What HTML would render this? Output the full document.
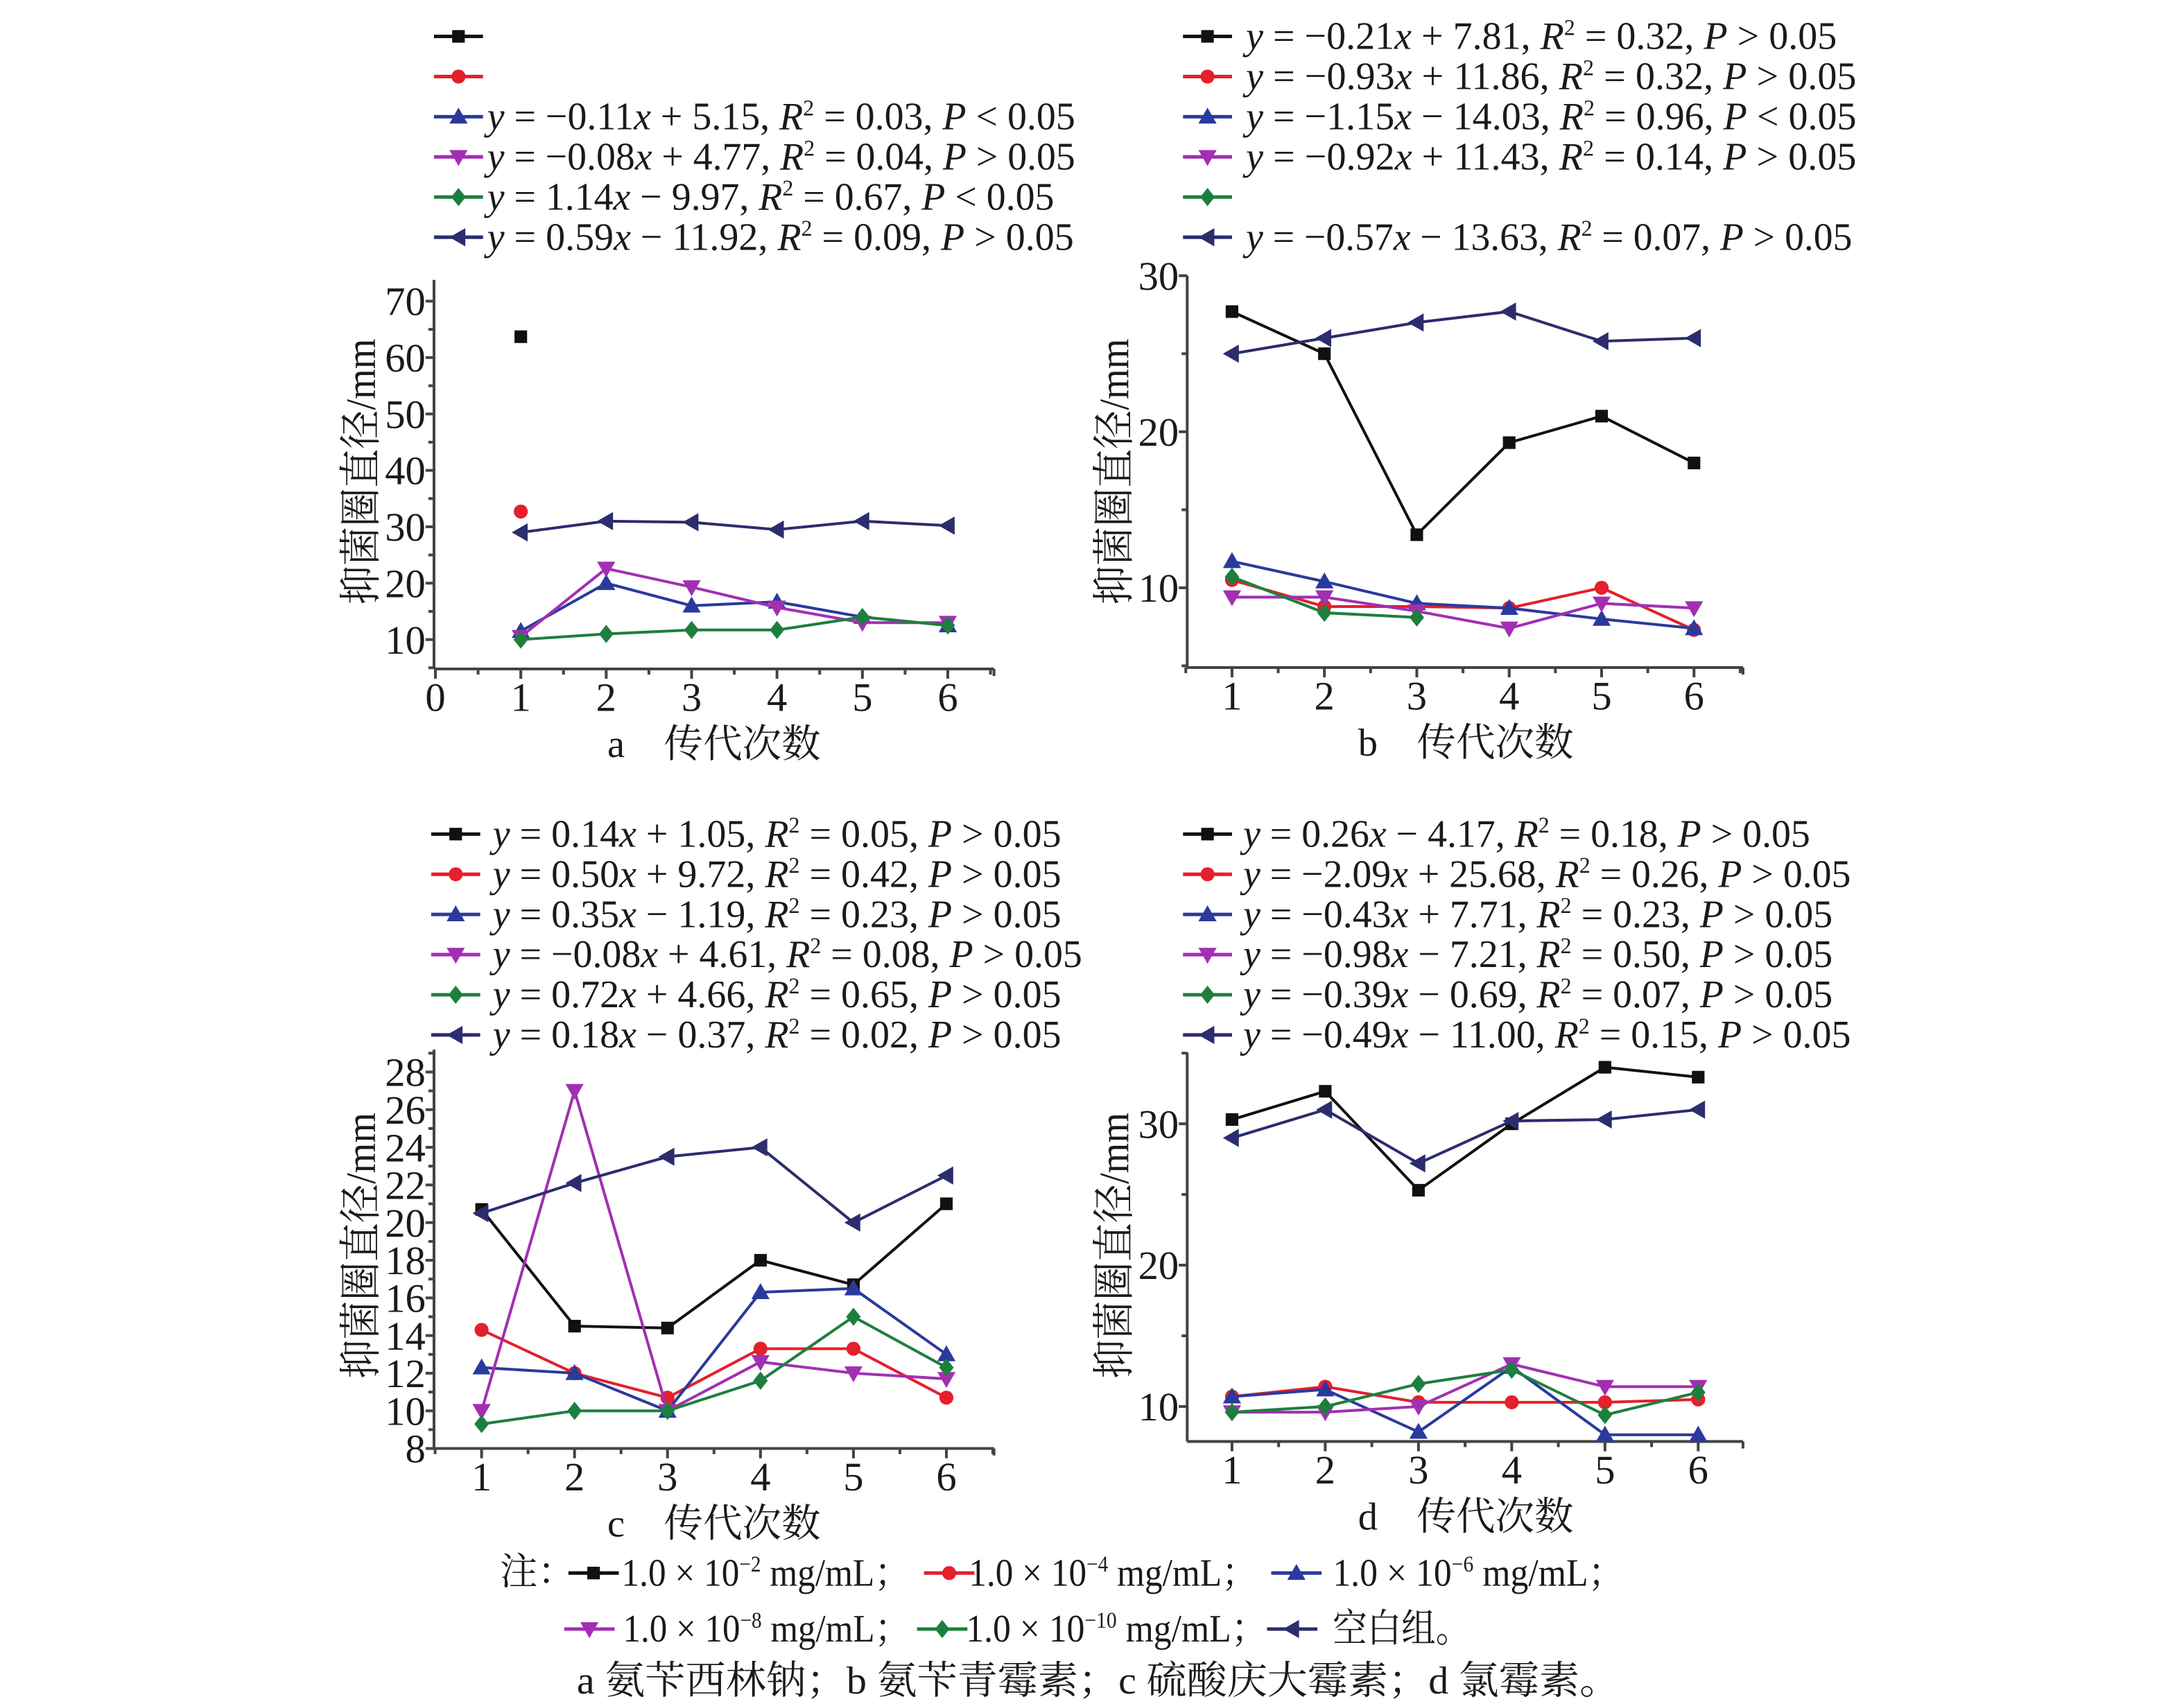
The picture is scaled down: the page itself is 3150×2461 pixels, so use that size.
<!DOCTYPE html>
<html><head><meta charset="utf-8"><style>
html,body{margin:0;padding:0;background:#fff}
svg{display:block}
text{font-family:"Liberation Serif","Noto Serif CJK SC",serif;fill:#1a1a1a}
</style></head><body>
<svg id="fig" width="3150" height="2461" viewBox="0 0 1560 1219" preserveAspectRatio="none" xmlns="http://www.w3.org/2000/svg"></svg>
<script>
// ---- data ----
const gens = [1,2,3,4,5,6];
const seriesNames = ["1e-2","1e-4","1e-6","1e-8","1e-10","blank"];
// panel a
const aBlack=[63.7,null,null,null,null,null];
const aRed=[32.7,null,null,null,null,null];
const aBlue=[11.5,20,16,16.7,14,12.5];
const aMag=[10.5,22.6,19.3,15.7,13,13];
const aGreen=[10,11,11.7,11.7,14,12.5];
const aNavy=[29,31,30.8,29.5,31,30.2];
// panel b
const bBlack=[27.7,25,13.4,19.3,21,18];
const bRed=[10.5,8.8,8.8,8.7,10,7.3];
const bBlue=[11.7,10.4,9,8.7,8,7.4];
const bMag=[9.4,9.4,8.5,7.4,9,8.7];
const bGreen=[10.7,8.4,8.1,null,null,null];
const bNavy=[25,26,27,27.7,25.8,26];
// panel c
const cBlack=[20.7,14.5,14.4,18,16.7,21];
const cRed=[14.3,12,10.7,13.3,13.3,10.7];
const cBlue=[12.3,12,10,16.3,16.5,13];
const cMag=[10,27,10,12.6,12,11.7];
const cGreen=[9.3,10,10,11.6,15,12.3];
const cNavy=[20.5,22.1,23.5,24,20,22.5];
// panel d
const dBlack=[30.3,32.3,25.3,30,34,33.3];
const dRed=[10.7,11.4,10.3,10.3,10.3,10.5];
const dBlue=[10.7,11.2,8.2,12.8,8,8];
const dMag=[9.6,9.6,10,13,11.4,11.4];
const dGreen=[9.6,10,11.6,12.6,9.4,11];
const dNavy=[29,31,27.2,30.2,30.3,31];
// ticks
const aYTicks=[10,20,30,40,50,60,70];
const bYTicks=[10,20,30];
const cYTicks=[8,10,12,14,16,18,20,22,24,26,28];
const dYTicks=[10,20,30];
const aXTicks=[0,1,2,3,4,5,6];
const bXTicks=[1,2,3,4,5,6];
// equations
const aEq=["","","y = −0.11x + 5.15, R² = 0.03, P < 0.05","y = −0.08x + 4.77, R² = 0.04, P > 0.05","y = 1.14x − 9.97, R² = 0.67, P < 0.05","y = 0.59x − 11.92, R² = 0.09, P > 0.05"];
const bEq=["y = −0.21x + 7.81, R² = 0.32, P > 0.05","y = −0.93x + 11.86, R² = 0.32, P > 0.05","y = −1.15x − 14.03, R² = 0.96, P < 0.05","y = −0.92x + 11.43, R² = 0.14, P > 0.05","","y = −0.57x − 13.63, R² = 0.07, P > 0.05"];
const cEq=["y = 0.14x + 1.05, R² = 0.05, P > 0.05","y = 0.50x + 9.72, R² = 0.42, P > 0.05","y = 0.35x − 1.19, R² = 0.23, P > 0.05","y = −0.08x + 4.61, R² = 0.08, P > 0.05","y = 0.72x + 4.66, R² = 0.65, P > 0.05","y = 0.18x − 0.37, R² = 0.02, P > 0.05"];
const dEq=["y = 0.26x − 4.17, R² = 0.18, P > 0.05","y = −2.09x + 25.68, R² = 0.26, P > 0.05","y = −0.43x + 7.71, R² = 0.23, P > 0.05","y = −0.98x − 7.21, R² = 0.50, P > 0.05","y = −0.39x − 0.69, R² = 0.07, P > 0.05","y = −0.49x − 11.00, R² = 0.15, P > 0.05"];

const COLORS=["#111111","#e3202c","#2a3a9c","#a22fb2","#1d7f3e","#2b2d6e"];
const SHAPES=["square","circle","up","down","diamond","left"];
const NS="http://www.w3.org/2000/svg";
const svg=document.getElementById('fig');
function el(tag,attrs,parent){const e=document.createElementNS(NS,tag);for(const k in attrs)e.setAttribute(k,attrs[k]);(parent||svg).appendChild(e);return e;}

function marker(shape,x,y,color,g){
  let m;
  if(shape==="square")m=el('rect',{x:x-4.5,y:y-4.5,width:9,height:9,fill:color},g);
  else if(shape==="circle")m=el('circle',{cx:x,cy:y,r:5,fill:color},g);
  else{
    const s=6.5;let p;
    if(shape==="up")p=[[x,y-s],[x+s,y+s*0.75],[x-s,y+s*0.75]];
    else if(shape==="down")p=[[x,y+s],[x+s,y-s*0.75],[x-s,y-s*0.75]];
    else if(shape==="diamond")p=[[x,y-s],[x+s*0.8,y],[x,y+s],[x-s*0.8,y]];
    else p=[[x-s,y],[x+s*0.75,y-s],[x+s*0.75,y+s]];
    m=el('polygon',{points:p.map(q=>q.join(',')).join(' '),fill:color},g);
  }
  return m;
}

function eqText(str,x,y,endX,g){
  const t=el('text',{x:x,y:y,'font-size':28,textLength:endX-x,lengthAdjust:'spacingAndGlyphs'},g);
  const re=/([yxRP])|(²)|([^yxRP²]+)/g;let mm;let pend=0;
  while((mm=re.exec(str))){
    const ts=document.createElementNS(NS,'tspan');
    if(mm[2]){ts.setAttribute('font-size','16');ts.setAttribute('dy','-10');ts.textContent='2';t.appendChild(ts);pend=10;continue;}
    if(pend){ts.setAttribute('dy',pend);pend=0;}
    if(mm[1]){ts.setAttribute('font-style','italic');ts.textContent=mm[1];}
    else ts.textContent=mm[3];
    t.appendChild(ts);
  }
  return t;
}

function panel(cfg){
  const g=el('g',{});
  
  
  const xs=v=>cfg.x1+(v-1)*cfg.dx;
  const ys=v=>cfg.yRef-(v-cfg.vRef)*cfg.py;
  const lg=el('g',{},g);
  
  
  cfg.eqs.forEach((eq,i)=>{
    const cy=cfg.legY0+i*28.7;
    const e=el('g',{},lg);
    
    
    el('line',{x1:cfg.legX,x2:cfg.legX+35,y1:cy,y2:cy,stroke:COLORS[i],'stroke-width':2.5},e);
    marker(SHAPES[i],cfg.legX+17.5,cy,COLORS[i],e);
    if(eq)eqText(eq,cfg.txtX,cy+9,cfg.ends[i],e);
  });
  const ax=el('g',{stroke:'#444','stroke-width':2},g);
  
  
  el('line',{x1:cfg.ax,x2:cfg.ax,y1:cfg.top,y2:cfg.bottom},ax);
  el('line',{x1:cfg.ax,x2:cfg.right,y1:cfg.bottom,y2:cfg.bottom},ax);
  const xstart=cfg.xTicks[0];
  for(let v=xstart-0.5;v<=6.6;v+=0.5){
    const px=xs(v);if(px<cfg.ax-1||px>cfg.right+1)continue;
    const major=Number.isInteger(v);
    el('line',{x1:px,x2:px,y1:cfg.bottom,y2:cfg.bottom+(major?7:4)},ax);
  }
  el('line',{x1:cfg.right,x2:cfg.right,y1:cfg.bottom,y2:cfg.bottom+5},ax);
  cfg.xTicks.forEach(v=>{
    const t=el('text',{x:xs(v),y:cfg.bottom+30,'font-size':29,'text-anchor':'middle'},g);
    t.textContent=v;
    
    
  });
  const step=cfg.yTicks[1]-cfg.yTicks[0];
  for(let v=cfg.yTicks[0]-step;v<=cfg.yTicks[cfg.yTicks.length-1]+step;v+=step/2){
    const py=ys(v);if(py>cfg.bottom+0.5||py<cfg.top)continue;
    const major=cfg.yTicks.includes(v);
    el('line',{x1:cfg.ax,x2:cfg.ax-(major?6:4),y1:py,y2:py},ax);
  }
  cfg.yTicks.forEach(v=>{
    const t=el('text',{x:cfg.ax-6,y:ys(v)+10,'font-size':29,'text-anchor':'end'},g);
    t.textContent=v;
    
    
  });
  const yt=el('text',{x:-95,y:0,'font-size':30,textLength:190,lengthAdjust:'spacingAndGlyphs',transform:`translate(${cfg.ax-42},${cfg.yTitleY}) rotate(-90)`},g);
  yt.textContent='抑菌圈直径/mm';
  
  
  const xt=el('text',{x:cfg.xTitleX,y:cfg.bottom+63,'font-size':28,'text-anchor':'middle'},g);
  xt.textContent=cfg.id+'\u00a0\u00a0\u00a0\u00a0传代次数';
  
  
  cfg.series.forEach((vals,i)=>{
    const sg=el('g',{},g);
    
    
    let d='';let started=false;
    vals.forEach((v,j)=>{if(v==null){started=false;return;}d+=(started?'L':'M')+xs(gens[j])+','+ys(v)+' ';started=true;});
    if(d){const p=el('path',{d:d,fill:'none',stroke:COLORS[i],'stroke-width':2},sg);
      
      }
    vals.forEach((v,j)=>{if(v==null)return;
      const m=marker(SHAPES[i],xs(gens[j]),ys(v),COLORS[i],sg);
      
      });
  });
}

panel({id:'a',x1:372,dx:61,yRef:457,vRef:10,py:4.03,ax:310,right:710,top:200,bottom:478,
  xTicks:aXTicks,yTicks:aYTicks,yTitleY:337,xTitleX:510,legX:310,txtX:348,legY0:26,
  ends:[0,0,768,768,753,767],eqs:aEq,series:[aBlack,aRed,aBlue,aMag,aGreen,aNavy]});
panel({id:'b',x1:880,dx:66,yRef:420,vRef:10,py:11.15,ax:848,right:1245,top:197,bottom:477,
  xTicks:bXTicks,yTicks:bYTicks,yTitleY:337,xTitleX:1047,legX:845,txtX:890,legY0:26,
  ends:[1312,1326,1326,1326,0,1323],eqs:bEq,series:[bBlack,bRed,bBlue,bMag,bGreen,bNavy]});
panel({id:'c',x1:344,dx:66.4,yRef:1035,vRef:8,py:13.45,ax:310,right:710,top:750,bottom:1035,
  xTicks:bXTicks,yTicks:cYTicks,yTitleY:890,xTitleX:510,legX:308,txtX:352,legY0:596,
  ends:[758,758,758,773,758,758],eqs:cEq,series:[cBlack,cRed,cBlue,cMag,cGreen,cNavy]});
panel({id:'d',x1:880,dx:66.6,yRef:1005,vRef:10,py:10.1,ax:848,right:1245,top:752,bottom:1030,
  xTicks:bXTicks,yTicks:dYTicks,yTitleY:890,xTitleX:1047,legX:845,txtX:888,legY0:596,
  ends:[1293,1322,1309,1309,1309,1322],eqs:dEq,series:[dBlack,dRed,dBlue,dMag,dGreen,dNavy]});

// footnote
const fn=el('g',{});


const t0=el('text',{x:357,y:1132,'font-size':27},fn);t0.textContent='注：';
const noteItems=[[406,1133,444,650,'1.0 × 10','−2'],[660,1133,692,898,'1.0 × 10','−4'],[908,1133,952,1160,'1.0 × 10','−6'],
  [403,1173,445,650,'1.0 × 10','−8'],[655,1173,690,905,'1.0 × 10','−10'],[905,1173,952,1050,'空白组。','']];
noteItems.forEach((n,i)=>{
  const e=el('g',{},fn);
  
  
  const cy=n[1]-9;
  el('line',{x1:n[0],x2:n[0]+36,y1:cy,y2:cy,stroke:COLORS[i],'stroke-width':2.5},e);
  marker(SHAPES[i],n[0]+18,cy,COLORS[i],e);
  const t=el('text',{x:n[2],y:n[1],'font-size':28,textLength:n[3]-n[2],lengthAdjust:'spacingAndGlyphs'},e);
  if(n[5]){
    const a=document.createElementNS(NS,'tspan');a.textContent=n[4];t.appendChild(a);
    const b=document.createElementNS(NS,'tspan');b.setAttribute('font-size','16');b.setAttribute('dy','-10');b.textContent=n[5];t.appendChild(b);
    const c=document.createElementNS(NS,'tspan');c.setAttribute('dy','10');c.textContent=' mg/mL；';t.appendChild(c);
  } else t.textContent=n[4];
});
const t3=el('text',{x:412,y:1210,'font-size':28,textLength:745,lengthAdjust:'spacingAndGlyphs'},fn);
t3.textContent='a 氨苄西林钠；b 氨苄青霉素；c 硫酸庆大霉素；d 氯霉素。';
</script>
</body></html>
